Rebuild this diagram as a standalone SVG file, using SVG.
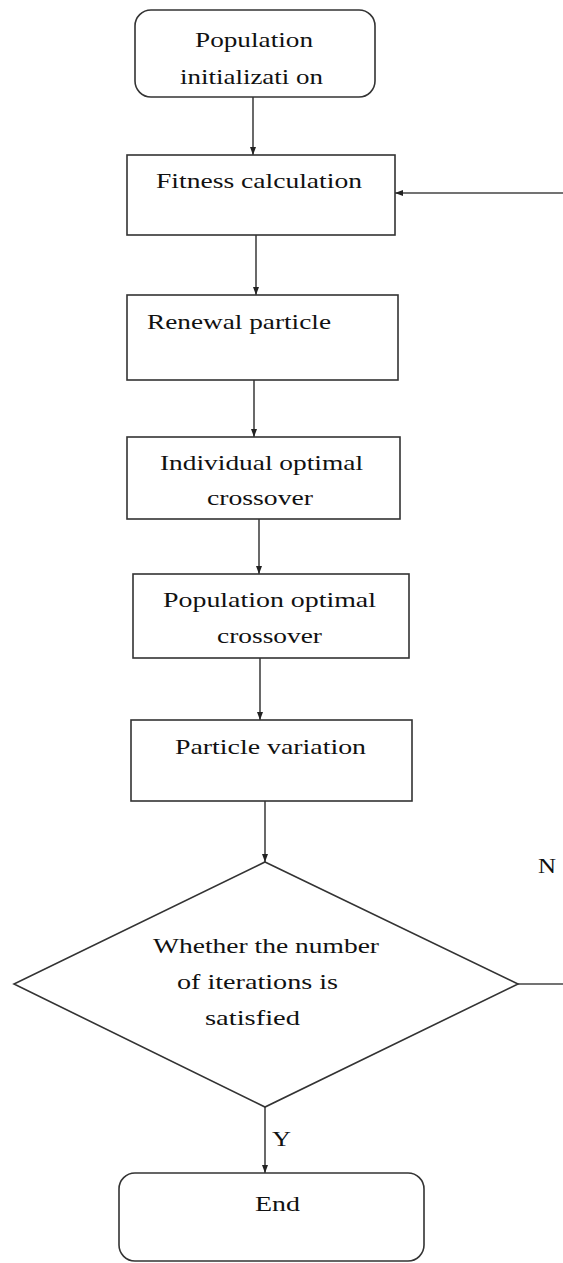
<svg xmlns="http://www.w3.org/2000/svg" width="563" height="1263" viewBox="0 0 563 1263">
<style>
.box{fill:#fff;stroke:#333;stroke-width:1.6}
.edge{fill:none;stroke:#444;stroke-width:1.6}
text{font-family:"Liberation Serif","Times New Roman",serif;font-size:22px;fill:#111}
</style>
<defs>
<marker id="ah" markerUnits="userSpaceOnUse" markerWidth="10" markerHeight="10" viewBox="0 0 10 10" refX="9" refY="5" orient="auto">
<path d="M1,2 L9,5 L1,8 Z" fill="#222"/>
</marker>
</defs>
<rect width="563" height="1263" fill="#fff"/>
<g id="connectors">
<line class="edge" x1="253" y1="97" x2="253" y2="155" marker-end="url(#ah)"/>
<line class="edge" x1="256" y1="235" x2="256" y2="295" marker-end="url(#ah)"/>
<line class="edge" x1="254" y1="380" x2="254" y2="437" marker-end="url(#ah)"/>
<line class="edge" x1="259" y1="519" x2="259" y2="574" marker-end="url(#ah)"/>
<line class="edge" x1="260" y1="658" x2="260" y2="720" marker-end="url(#ah)"/>
<line class="edge" x1="265" y1="801" x2="265" y2="862" marker-end="url(#ah)"/>
<line class="edge" x1="265" y1="1107" x2="265" y2="1173" marker-end="url(#ah)"/>
<line class="edge" x1="518" y1="984" x2="563" y2="984"/>
<line class="edge" x1="563" y1="193" x2="395" y2="193" marker-end="url(#ah)"/>
<text x="272" y="1146" textLength="19" lengthAdjust="spacingAndGlyphs">Y</text>
<text x="538" y="873" textLength="18" lengthAdjust="spacingAndGlyphs">N</text>
</g>
<g id="start">
<rect class="box" x="135" y="10" width="240" height="87" rx="16"/>
<text x="195" y="47" textLength="118" lengthAdjust="spacingAndGlyphs">Population</text>
<text x="180" y="84" textLength="143" lengthAdjust="spacingAndGlyphs">initializati on</text>
</g>
<g id="fitness">
<rect class="box" x="127" y="155" width="268" height="80"/>
<text x="156" y="188" textLength="206" lengthAdjust="spacingAndGlyphs">Fitness calculation</text>
</g>
<g id="renewal">
<rect class="box" x="127" y="295" width="271" height="85"/>
<text x="147" y="329" textLength="184" lengthAdjust="spacingAndGlyphs">Renewal particle</text>
</g>
<g id="individual">
<rect class="box" x="127" y="437" width="273" height="82"/>
<text x="160" y="470" textLength="203" lengthAdjust="spacingAndGlyphs">Individual optimal</text>
<text x="207" y="505" textLength="106" lengthAdjust="spacingAndGlyphs">crossover</text>
</g>
<g id="population">
<rect class="box" x="133" y="574" width="276" height="84"/>
<text x="163" y="607" textLength="213" lengthAdjust="spacingAndGlyphs">Population optimal</text>
<text x="217" y="643" textLength="105" lengthAdjust="spacingAndGlyphs">crossover</text>
</g>
<g id="variation">
<rect class="box" x="131" y="720" width="281" height="81"/>
<text x="175" y="754" textLength="191" lengthAdjust="spacingAndGlyphs">Particle variation</text>
</g>
<g id="decision">
<polygon class="box" points="265,862 518,984 265,1107 14,984"/>
<text x="153" y="953" textLength="226" lengthAdjust="spacingAndGlyphs">Whether the number</text>
<text x="177" y="989" textLength="161" lengthAdjust="spacingAndGlyphs">of iterations is</text>
<text x="205" y="1025" textLength="95" lengthAdjust="spacingAndGlyphs">satisfied</text>
</g>
<g id="end">
<rect class="box" x="119" y="1173" width="305" height="88" rx="16"/>
<text x="255" y="1211" textLength="45" lengthAdjust="spacingAndGlyphs">End</text>
</g>
</svg>
